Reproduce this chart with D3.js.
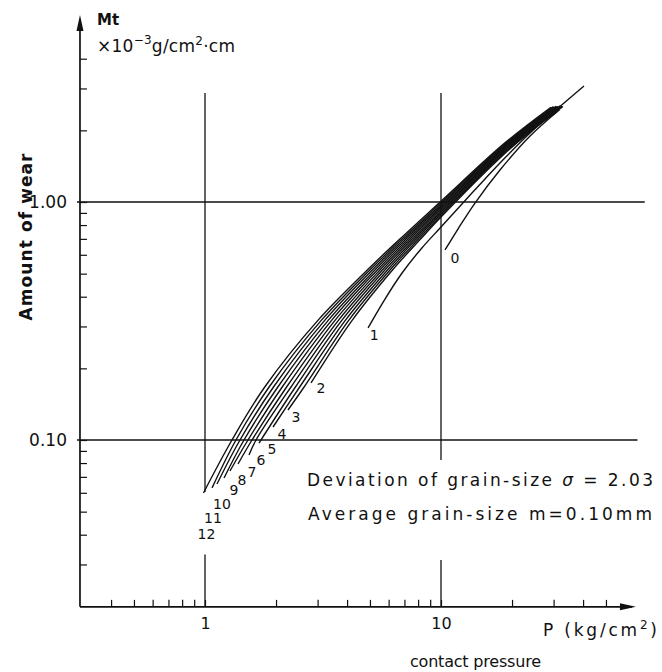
<!DOCTYPE html>
<html>
<head>
<meta charset="utf-8">
<script src="https://cdn.jsdelivr.net/npm/d3@7"></script>
<style>
  body { margin: 0; background: #fff; }
  svg { display: block; background: #fff; }
  text { font-family: "DejaVu Sans", sans-serif; fill: #111; }
</style>
</head>
<body>
<div id="chart"><svg width="662" height="672"></svg></div>
<script>
// Tick values on the two log axes
let pressureTicks = [0.4, 0.5, 0.6, 0.7, 0.8, 0.9, 1, 2, 3, 4, 5, 6, 7, 8, 9, 10, 20, 30, 40, 50];
let pressureLabels = [1, 10];
let wearTicks = [0.03, 0.04, 0.05, 0.06, 0.07, 0.08, 0.09, 0.1, 0.2, 0.3, 0.4, 0.5, 0.6, 0.7, 0.8, 0.9, 1, 2, 3, 4];
let wearLabelValues = [0.1, 1];
let wearLabelText = ["0.10", "1.00"];

// Curves: [contact pressure P (kg/cm2), amount of wear Mt (1e-3 g/cm2.cm)]
let curveNames = ["0", "1", "2", "3", "4", "5", "6", "7", "8", "9", "10", "11", "12"];
let curve0 = [[10.40, 0.629], [11.80, 0.770], [13.93, 0.990], [17.78, 1.363], [23.84, 1.894], [31.32, 2.413]];
let curve1 = [[4.91, 0.296], [5.79, 0.391], [6.84, 0.503], [8.23, 0.635], [10.0, 0.785], [12.27, 0.981], [15.36, 1.249], [17.78, 1.458], [23.84, 1.950], [40.36, 3.072]];
let curve2 = [[2.813, 0.1736], [4.209, 0.319], [6.230, 0.518], [8.116, 0.692], [10, 0.865], [17.78, 1.531], [23.84, 1.969], [31.93, 2.447]];
let curve3 = [[2.247, 0.1337], [2.630, 0.167], [4.071, 0.319], [6.080, 0.518], [7.951, 0.692], [10, 0.878], [17.78, 1.547], [23.84, 1.986], [32.88, 2.520]];
let curve4 = [[1.942, 0.1134], [2.519, 0.167], [3.938, 0.319], [5.933, 0.518], [7.790, 0.692], [10, 0.892], [17.78, 1.564], [23.84, 2.003], [32.56, 2.526]];
let curve5 = [[1.694, 0.0971], [2.416, 0.167], [3.806, 0.319], [5.785, 0.518], [7.640, 0.692], [10, 0.905], [17.78, 1.580], [23.84, 2.021], [32.25, 2.530]];
let curve6 = [[1.536, 0.0865], [1.645, 0.1], [2.314, 0.167], [3.682, 0.319], [5.645, 0.518], [7.484, 0.692], [10, 0.919], [17.78, 1.597], [23.84, 2.038], [31.93, 2.533]];
let curve7 = [[1.380, 0.0793], [1.582, 0.1], [2.217, 0.167], [3.562, 0.319], [5.509, 0.518], [7.333, 0.692], [10, 0.934], [17.78, 1.614], [23.84, 2.056], [31.32, 2.519]];
let curve8 = [[1.276, 0.0741], [1.521, 0.1], [2.124, 0.167], [3.446, 0.319], [5.376, 0.518], [7.184, 0.692], [10, 0.948], [17.78, 1.632], [23.84, 2.074], [31.01, 2.520]];
let curve9 = [[1.204, 0.0692], [1.463, 0.1], [2.035, 0.167], [3.333, 0.319], [5.247, 0.518], [7.038, 0.692], [10, 0.963], [17.78, 1.649], [23.84, 2.092], [30.72, 2.526]];
let curve10 = [[1.124, 0.0653], [1.407, 0.1], [1.951, 0.167], [3.222, 0.319], [5.116, 0.518], [6.902, 0.692], [10, 0.977], [17.78, 1.667], [23.84, 2.110], [30.12, 2.510]];
let curve11 = [[1.071, 0.0629], [1.353, 0.1], [1.869, 0.167], [3.116, 0.319], [4.992, 0.518], [6.762, 0.692], [10, 0.992], [17.78, 1.684], [23.84, 2.129], [29.83, 2.514]];
let curve12 = [[0.985, 0.0599], [1.301, 0.1], [1.791, 0.167], [3.015, 0.319], [4.872, 0.518], [6.625, 0.692], [10, 1.008], [17.78, 1.702], [23.84, 2.147], [29.25, 2.500]];
let curves = [curve0, curve1, curve2, curve3, curve4, curve5, curve6, curve7, curve8, curve9, curve10, curve11, curve12];

// Layout
let svg = d3.select("div#chart svg");
let ink = "#111";

// Axis extents (data units) and where the grid lines stop
let extent = { pMin: 0.2953, pMax: 67, mMin: 0.0199, mMax: 6.1 };
let gridTop = 2.87;
let gridRight = { "1": 73, "0.1": 68 };
// gaps in the vertical grid lines (where the labels sit)
let gridGaps = { "1": [0.033, 0.0605], "10": [0.0313, 0.0824] };

// label offset from the lower end of each curve, px
let labelOffsets = [[10, 8], [6, 7], [10, 5], [8, 7], [9, 7], [13, 6], [12, 5], [14, 8], [12, 9], [10, 12], [5, 20], [1, 30], [3, 41]];

let x = d3.scaleLog().domain([1, 10]).range([205, 441]);
let y = d3.scaleLog().domain([0.1, 1]).range([440, 202]);

let g = svg.append("g");

// Grid lines
let grid = g.append("g").attr("class", "grid")
  .attr("stroke", ink)
  .attr("stroke-width", 1.3);

[1, 10].forEach(p => {
  let gap = gridGaps[String(p)];
  grid.append("line")
    .attr("x1", x(p)).attr("x2", x(p))
    .attr("y1", y(gridTop)).attr("y2", y(gap[1]));
  grid.append("line")
    .attr("x1", x(p)).attr("x2", x(p))
    .attr("y1", y(gap[0])).attr("y2", y(extent.mMin));
});

[0.1, 1].forEach(m => {
  grid.append("line")
    .attr("x1", x(extent.pMin) - 3).attr("x2", x(gridRight[String(m)]))
    .attr("y1", y(m)).attr("y2", y(m));
});

// Y axis (ticks inside)
let yAxis = g.append("g")
  .attr("class", "axis axis_y")
  .attr("transform", "translate(" + x(extent.pMin) + ",0)")
  .style("color", ink)
  .call(d3.axisLeft(y)
    .tickValues(wearTicks)
    .tickSize(-7)
    .tickPadding(13)
    .tickFormat(d => {
      let i = wearLabelValues.findIndex(v => Math.abs(v - d) < 1e-9);
      return i < 0 ? "" : wearLabelText[i];
    }));
yAxis.select(".domain").remove();
yAxis.selectAll("line").attr("stroke-width", 1.2);
yAxis.selectAll("text")
  .style("font-family", "DejaVu Sans")
  .style("font-size", "17px")
  .attr("fill", ink);

// X axis (ticks inside)
let xAxis = g.append("g")
  .attr("class", "axis axis_x")
  .attr("transform", "translate(0," + y(extent.mMin) + ")")
  .style("color", ink)
  .call(d3.axisBottom(x)
    .tickValues(pressureTicks)
    .tickSize(-7)
    .tickPadding(11)
    .tickFormat(d => pressureLabels.indexOf(d) >= 0 ? String(d) : ""));
xAxis.select(".domain").remove();
xAxis.selectAll("line").attr("stroke-width", 1.2);
xAxis.selectAll("text")
  .style("font-family", "DejaVu Sans")
  .style("font-size", "16px")
  .attr("fill", ink);

// Axis lines with arrow heads
let x0 = x(extent.pMin), y0 = y(extent.mMin);
let xTip = x(extent.pMax), yTip = y(extent.mMax);

g.append("line")
  .attr("x1", x0).attr("x2", xTip - 4)
  .attr("y1", y0).attr("y2", y0)
  .attr("stroke", ink).attr("stroke-width", 1.7);
g.append("path")
  .attr("d", "M" + xTip + "," + y0 + "L" + (xTip - 16) + "," + (y0 - 3.5) + "L" + (xTip - 16) + "," + (y0 + 3.5) + "Z")
  .attr("fill", ink);

g.append("line")
  .attr("x1", x0).attr("x2", x0)
  .attr("y1", y0).attr("y2", yTip + 4)
  .attr("stroke", ink).attr("stroke-width", 1.7);
g.append("path")
  .attr("d", "M" + x0 + "," + yTip + "L" + (x0 - 3.5) + "," + (yTip + 16) + "L" + (x0 + 3.5) + "," + (yTip + 16) + "Z")
  .attr("fill", ink);

// Curves
let line = d3.line()
  .x(d => x(d[0]))
  .y(d => y(d[1]))
  .curve(d3.curveCatmullRom.alpha(0.5));

g.append("g")
  .attr("class", "curves")
  .selectAll("path")
  .data(curves)
  .enter()
  .append("path")
  .attr("d", line)
  .attr("fill", "none")
  .attr("stroke", ink)
  .attr("stroke-width", 1.4);

// Curve labels
g.append("g")
  .attr("class", "curve-labels")
  .selectAll("text")
  .data(curves)
  .enter()
  .append("text")
  .attr("x", (c, i) => x(c[0][0]) + labelOffsets[i][0])
  .attr("y", (c, i) => y(c[0][1]) + labelOffsets[i][1])
  .attr("dy", "0.36em")
  .style("text-anchor", "middle")
  .style("font-size", "14px")
  .text((c, i) => curveNames[i]);

// Y title
g.append("text")
  .attr("transform", "translate(32,237) rotate(-90)")
  .style("text-anchor", "middle")
  .style("font-size", "17px")
  .style("font-weight", "bold")
  .attr("textLength", 167)
  .attr("lengthAdjust", "spacing")
  .text("Amount of wear");

// Units at the top of the y axis
g.append("text")
  .attr("x", 97)
  .attr("y", 25)
  .style("font-size", "15px")
  .style("font-weight", "bold")
  .text("Mt");

let unit = g.append("text")
  .attr("x", 97)
  .attr("y", 52)
  .style("font-size", "17px")
  .attr("textLength", 138)
  .attr("lengthAdjust", "spacing");
unit.append("tspan").text("×10");
unit.append("tspan").attr("dy", -8).style("font-size", "12px").text("−3");
unit.append("tspan").attr("dy", 8).text("g/cm");
unit.append("tspan").attr("dy", -7).style("font-size", "12px").text("2");
unit.append("tspan").attr("dy", 7).text("·cm");

// X title
let xUnit = g.append("text")
  .attr("x", 543)
  .attr("y", 636)
  .style("font-size", "17px")
  .attr("textLength", 114)
  .attr("lengthAdjust", "spacing");
xUnit.append("tspan").text("P (kg/cm");
xUnit.append("tspan").attr("dy", -7).style("font-size", "12px").text("2");
xUnit.append("tspan").attr("dy", 7).text(")");

g.append("text")
  .attr("x", 410)
  .attr("y", 667)
  .style("font-size", "16px")
  .attr("textLength", 131)
  .attr("lengthAdjust", "spacing")
  .text("contact pressure");

// Annotation
let note1 = g.append("text")
  .attr("x", 307)
  .attr("y", 486)
  .style("font-size", "17px")
  .attr("textLength", 346)
  .attr("lengthAdjust", "spacing");
note1.append("tspan").text("Deviation of grain-size  ");
note1.append("tspan").style("font-style", "italic").text("σ");
note1.append("tspan").text(" = 2.03");

g.append("text")
  .attr("x", 308)
  .attr("y", 520)
  .style("font-size", "17px")
  .attr("textLength", 344)
  .attr("lengthAdjust", "spacing")
  .text("Average grain-size    m=0.10mm");
</script>
</body>
</html>
